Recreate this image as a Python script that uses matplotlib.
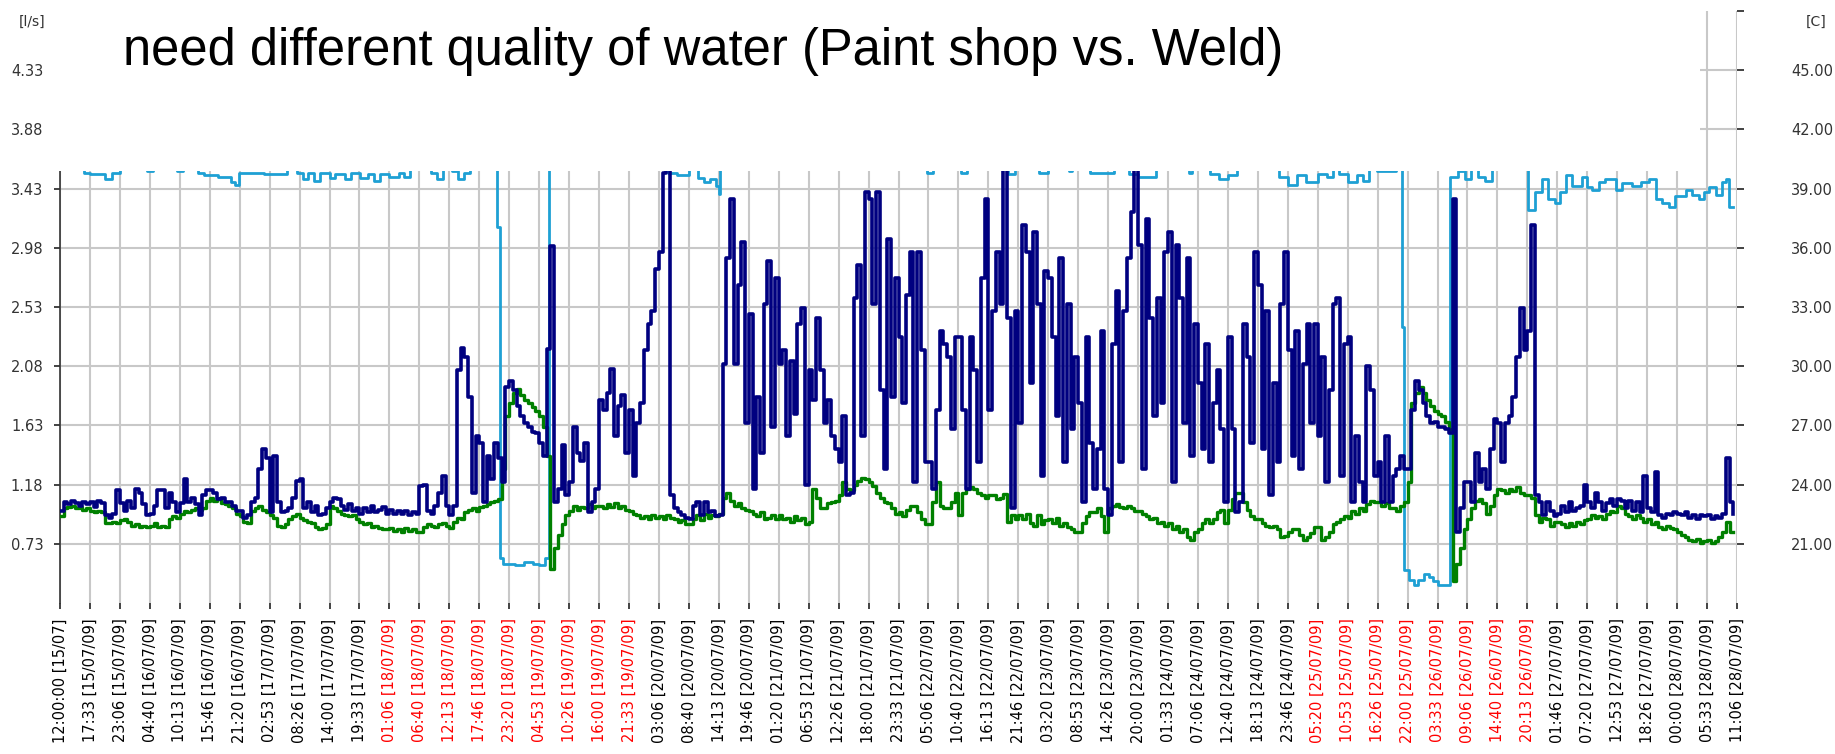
import matplotlib.pyplot as plt
import numpy as np
from matplotlib.patches import Rectangle

W, H = 1835, 754
TICK_H = 20000 / 3600.0   # one x tick every 5 h 33 min 20 s

tick_labels = [
    "12:00:00 [15/07]", "17:33 [15/07/09]", "23:06 [15/07/09]", "04:40 [16/07/09]",
    "10:13 [16/07/09]", "15:46 [16/07/09]", "21:20 [16/07/09]", "02:53 [17/07/09]",
    "08:26 [17/07/09]", "14:00 [17/07/09]", "19:33 [17/07/09]", "01:06 [18/07/09]",
    "06:40 [18/07/09]", "12:13 [18/07/09]", "17:46 [18/07/09]", "23:20 [18/07/09]",
    "04:53 [19/07/09]", "10:26 [19/07/09]", "16:00 [19/07/09]", "21:33 [19/07/09]",
    "03:06 [20/07/09]", "08:40 [20/07/09]", "14:13 [20/07/09]", "19:46 [20/07/09]",
    "01:20 [21/07/09]", "06:53 [21/07/09]", "12:26 [21/07/09]", "18:00 [21/07/09]",
    "23:33 [21/07/09]", "05:06 [22/07/09]", "10:40 [22/07/09]", "16:13 [22/07/09]",
    "21:46 [22/07/09]", "03:20 [23/07/09]", "08:53 [23/07/09]", "14:26 [23/07/09]",
    "20:00 [23/07/09]", "01:33 [24/07/09]", "07:06 [24/07/09]", "12:40 [24/07/09]",
    "18:13 [24/07/09]", "23:46 [24/07/09]", "05:20 [25/07/09]", "10:53 [25/07/09]",
    "16:26 [25/07/09]", "22:00 [25/07/09]", "03:33 [26/07/09]", "09:06 [26/07/09]",
    "14:40 [26/07/09]", "20:13 [26/07/09]", "01:46 [27/07/09]", "07:20 [27/07/09]",
    "12:53 [27/07/09]", "18:26 [27/07/09]", "00:00 [28/07/09]", "05:33 [28/07/09]",
    "11:06 [28/07/09]",
]
weekend_days = ["[18/", "[19/", "[25/", "[26/"]

left_ticks = [0.73, 1.18, 1.63, 2.08, 2.53, 2.98, 3.43, 3.88, 4.33]
right_ticks = [21, 24, 27, 30, 33, 36, 39, 42, 45, 48]

# flow [l/s], 8 samples per tick interval (one row per interval)
navy = [
    0.98, 1.05, 1.03, 1.06, 1.04, 1.02, 1.05, 1.03,
    1.05, 1.01, 1.06, 1.04, 0.95, 0.93, 0.96, 1.14,
    1.04, 0.98, 1.06, 1.00, 1.15, 1.12, 1.03, 0.95,
    0.96, 1.02, 1.14, 1.14, 1.00, 1.12, 1.05, 0.97,
    1.04, 1.22, 1.05, 1.08, 1.03, 0.95, 1.10, 1.14,
    1.14, 1.12, 1.07, 1.08, 1.05, 1.05, 1.02, 0.98,
    0.98, 0.93, 0.95, 1.05, 1.08, 1.30, 1.45, 1.38,
    0.97, 1.40, 1.05, 0.97, 0.98, 1.00, 1.08, 1.21,
    1.22, 1.00, 1.05, 0.97, 1.02, 0.95, 0.96, 1.00,
    1.05, 1.08, 1.07, 1.02, 0.99, 1.03, 0.98, 1.00,
    0.96, 1.00, 0.97, 1.02, 0.97, 0.99, 1.01, 0.96,
    0.99, 0.96, 0.98, 0.96, 0.98, 0.95, 0.97, 0.96,
    1.17, 1.18, 0.98, 0.96, 1.02, 1.12, 1.25, 1.02,
    0.95, 1.02, 2.05, 2.22, 2.15, 1.85, 1.12, 1.55,
    1.50, 1.05, 1.40, 1.22, 1.50, 1.38, 1.20, 1.92,
    1.97, 1.90, 1.78, 1.70, 1.65, 1.62, 1.58, 1.57,
    1.50, 1.40, 2.21, 2.99, 1.05, 1.15, 1.48, 1.10,
    1.20, 1.62, 1.42, 1.36, 1.50, 0.97, 1.05, 1.15,
    1.82, 1.75, 1.88, 2.06, 1.55, 1.78, 1.86, 1.42,
    1.75, 1.25, 1.65, 1.80, 2.20, 2.40, 2.50, 2.82,
    2.95, 3.55, 3.65, 1.10, 1.00, 0.97, 0.95, 0.93,
    0.92, 1.02, 1.05, 0.95, 1.05, 0.97, 0.98, 0.94,
    0.95, 2.10, 2.90, 3.35, 2.10, 2.70, 3.02, 1.65,
    2.48, 1.15, 1.85, 1.42, 2.55, 2.88, 1.62, 2.75,
    2.10, 2.20, 1.55, 2.12, 1.72, 2.40, 2.52, 1.18,
    2.05, 1.82, 2.45, 2.05, 1.65, 1.82, 1.55, 1.45,
    1.35, 1.70, 1.10, 1.12, 2.60, 2.85, 1.55, 3.40,
    3.35, 2.55, 3.40, 1.90, 1.30, 3.05, 1.85, 2.75,
    2.30, 1.80, 2.62, 2.95, 1.20, 2.95, 2.20, 1.35,
    1.35, 1.15, 1.75, 2.35, 2.25, 2.15, 1.60, 2.30,
    2.30, 1.75, 1.15, 2.30, 2.05, 1.35, 2.75, 3.35,
    1.75, 2.50, 2.95, 2.55, 3.60, 2.45, 1.00, 2.50,
    1.65, 3.15, 2.95, 1.95, 3.10, 2.55, 1.25, 2.80,
    2.75, 2.30, 1.70, 2.90, 1.35, 2.55, 1.60, 2.15,
    1.80, 1.05, 2.30, 1.50, 1.15, 1.45, 2.35, 1.15,
    0.95, 2.25, 2.65, 1.35, 2.50, 2.90, 3.25, 3.60,
    3.00, 1.30, 3.20, 2.45, 1.70, 2.60, 1.80, 2.95,
    3.10, 1.20, 3.00, 2.60, 1.65, 2.90, 1.40, 2.40,
    1.95, 1.45, 2.25, 1.35, 1.80, 2.05, 1.60, 1.05,
    2.30, 1.60, 0.97, 1.05, 2.40, 2.15, 1.50, 2.95,
    2.70, 1.45, 2.50, 1.10, 1.95, 1.35, 2.55, 2.95,
    2.20, 1.40, 2.35, 1.30, 2.10, 2.40, 1.65, 2.40,
    1.55, 2.15, 1.20, 1.90, 2.55, 2.60, 1.25, 2.25,
    2.30, 1.05, 1.55, 1.20, 1.05, 2.08, 1.90, 1.25,
    1.35, 1.05, 1.55, 1.05, 1.25, 1.30, 1.40, 1.30,
    1.30, 1.75, 1.97, 1.90, 1.80, 1.70, 1.65, 1.66,
    1.62, 1.62, 1.60, 1.57, 3.35, 0.82, 1.00, 1.20,
    1.20, 1.05, 1.42, 1.20, 1.30, 1.15, 1.45, 1.68,
    1.65, 1.35, 1.65, 1.70, 1.85, 2.15, 2.52, 2.20,
    2.35, 3.15, 1.10, 1.05, 0.95, 1.05, 0.98, 0.94,
    0.96, 1.02, 0.97, 1.05, 0.98, 1.00, 1.02, 1.18,
    1.05, 1.00, 1.12, 1.05, 0.98, 1.04, 1.07, 1.02,
    1.07, 1.06, 1.00, 1.06, 0.98, 1.05, 0.97, 1.25,
    1.00, 0.97, 1.28, 0.95, 0.93, 0.96, 0.95, 0.97,
    0.96, 0.95, 0.97, 0.93, 0.95, 0.92, 0.95, 0.94,
    0.95, 0.92, 0.94, 0.93, 0.96, 1.38, 1.05, 0.96,
]

green = [
    0.94, 1.00, 1.01, 1.02, 1.00, 1.01, 0.99, 1.00,
    0.98, 0.97, 0.98, 0.97, 0.89, 0.89, 0.90, 0.89,
    0.91, 0.92, 0.90, 0.87, 0.88, 0.86, 0.87, 0.86,
    0.87, 0.89, 0.86, 0.87, 0.86, 0.92, 0.94, 0.93,
    0.96, 0.98, 0.97, 0.99, 1.00, 0.99, 1.00, 1.06,
    1.08, 1.06, 1.07, 1.04, 1.03, 1.02, 1.00, 0.96,
    0.94, 0.90, 0.89, 0.98, 1.00, 1.02, 0.99, 0.97,
    0.95, 0.93, 0.87, 0.86, 0.88, 0.92, 0.94, 0.96,
    0.93, 0.91, 0.90, 0.89, 0.86, 0.84, 0.85, 0.88,
    1.02, 1.00, 0.98, 0.96, 0.95, 0.94, 0.95, 0.92,
    0.90, 0.88, 0.89, 0.86, 0.87, 0.85, 0.84, 0.84,
    0.85, 0.83, 0.84, 0.82, 0.85, 0.83, 0.84, 0.82,
    0.82, 0.86, 0.88, 0.87, 0.86, 0.88, 0.89, 0.87,
    0.85, 0.90, 0.93, 0.92, 0.97, 0.99, 1.00, 0.98,
    1.01, 1.02, 1.03, 1.05, 1.06, 1.07, 1.30, 1.70,
    1.80, 1.88, 1.91, 1.86, 1.82, 1.80, 1.77, 1.74,
    1.70, 1.62, 1.40, 0.54, 0.70, 0.80, 0.88, 0.95,
    0.98, 1.02, 0.99, 1.01, 1.00, 1.03, 1.00, 1.02,
    1.02, 1.00, 1.03, 1.01, 1.04, 1.00, 1.02, 0.99,
    0.98, 0.96, 0.95, 0.93, 0.94, 0.92, 0.95, 0.93,
    0.94, 0.92, 0.95, 0.93, 0.92, 0.90, 0.91, 0.88,
    0.88, 0.92, 0.95, 0.91, 0.96, 0.93, 0.95, 0.94,
    0.96, 1.08, 1.12, 1.06, 1.02, 1.04, 1.00, 0.99,
    0.98, 0.96, 0.94, 0.97, 0.92, 0.93, 0.95, 0.92,
    0.95, 0.92, 0.93, 0.90, 0.94, 0.91, 0.93, 0.88,
    0.90, 1.15, 1.08, 1.00, 1.00, 1.04, 1.05, 1.06,
    1.10, 1.20, 1.15, 1.14, 1.18, 1.21, 1.23, 1.22,
    1.20, 1.17, 1.12, 1.08, 1.05, 1.04, 1.00, 0.96,
    0.97, 0.94, 0.99, 1.02, 1.02, 0.97, 0.92, 0.88,
    0.88, 1.05, 1.20, 1.02, 1.00, 1.00, 1.05, 1.12,
    0.95, 1.12, 1.15, 1.16, 1.15, 1.12, 1.10, 1.08,
    1.10, 1.10, 1.07, 1.08, 1.11, 0.90, 0.95, 0.92,
    0.95, 0.92, 0.96, 0.89, 0.87, 0.95, 0.88, 0.91,
    0.92, 0.89, 0.93, 0.87, 0.89, 0.86, 0.84, 0.82,
    0.82, 0.89, 0.94, 0.97, 0.97, 1.00, 0.94, 0.82,
    1.00, 1.02, 1.03, 1.01, 1.00, 1.02, 1.00, 0.98,
    0.98, 0.96, 0.94, 0.92, 0.93, 0.89, 0.90, 0.87,
    0.89, 0.84, 0.87, 0.82, 0.84, 0.78, 0.76, 0.82,
    0.84, 0.89, 0.92, 0.89, 0.92, 0.97, 0.99, 0.89,
    0.99, 1.07, 1.12, 1.12, 1.05, 0.99, 0.94, 0.92,
    0.92, 0.89, 0.87, 0.86, 0.87, 0.84, 0.78, 0.79,
    0.82, 0.84, 0.84, 0.80, 0.76, 0.78, 0.81, 0.86,
    0.86, 0.76, 0.78, 0.82, 0.88, 0.90, 0.92, 0.94,
    0.93, 0.98, 0.96, 1.00, 0.98, 1.03, 1.06, 1.05,
    1.05, 1.02, 1.04, 1.00, 1.00, 0.98, 1.02, 1.05,
    1.20, 1.80, 1.88, 1.92, 1.88, 1.82, 1.78, 1.74,
    1.72, 1.70, 1.66, 1.60, 0.45, 0.58, 0.70, 0.84,
    0.92, 1.00, 1.06, 1.07, 1.04, 0.96, 1.02, 1.10,
    1.15, 1.14, 1.12, 1.15, 1.13, 1.16, 1.12, 1.10,
    1.10, 1.08, 0.95, 0.90, 0.93, 0.92, 0.87, 0.90,
    0.90, 0.88, 0.86, 0.89, 0.87, 0.90, 0.88, 0.91,
    0.92, 0.95, 0.93, 0.94, 0.92, 0.96, 0.98, 0.97,
    1.02, 1.00, 0.96, 0.94, 0.92, 0.95, 0.93, 0.90,
    0.92, 0.88, 0.90, 0.86, 0.84, 0.87, 0.85, 0.84,
    0.82, 0.80, 0.78, 0.76, 0.75, 0.77, 0.74, 0.75,
    0.76, 0.74, 0.75, 0.78, 0.82, 0.90, 0.82, 0.82,
]

# third trace: change points (hours since 15/07 12:00) and levels, in l/s units
cyan_hours = [
    0.0, 4.4, 5.6, 8.3, 9.7, 11.1, 16.1, 17.2, 21.7, 22.8, 25.6, 26.7, 29.4, 31.7,
    32.5, 33.3, 37.8, 42.2, 43.9, 45.0, 46.1, 47.2, 48.3, 50.0, 51.1, 52.8, 53.9,
    55.6, 57.2, 58.3, 59.4, 61.1, 62.8, 63.9, 65.0, 68.9, 70.0, 71.1, 72.8, 73.9,
    75.0, 76.1, 81.1, 81.6, 82.2, 84.4, 86.1, 87.8, 88.9, 90.0, 90.7, 112.8, 114.4,
    116.7, 118.3, 119.4, 120.6, 121.7, 122.2, 122.5, 160.8, 161.9, 167.2, 168.3,
    175.8, 177.2, 181.7, 183.3, 187.2, 187.8, 191.1, 195.6, 198.3, 200.0, 203.3,
    209.4, 210.0, 213.3, 215.0, 216.7, 218.3, 226.1, 227.8, 229.4, 231.1, 233.3,
    235.0, 236.1, 237.2, 238.9, 240.6, 241.7, 242.8, 244.4, 247.8, 248.9, 249.4,
    250.3, 251.1, 251.9, 253.1, 253.9, 254.7, 255.6, 257.9, 259.4, 260.6, 261.7,
    263.1, 264.4, 265.6, 272.4, 273.7, 275.0, 276.1, 277.4, 278.3, 279.3, 280.5,
    282.4, 283.3, 284.2, 285.6, 286.7, 288.6, 289.8, 291.7, 293.3, 294.8, 296.0,
    297.2, 298.5, 299.7, 301.6, 302.8, 304.1, 305.0, 305.9, 307.2, 308.4, 309.1,
    309.7, 310.3,
]
cyan = [
    3.62, 3.55, 3.54, 3.50, 3.55, 3.63, 3.56, 3.63, 3.56, 3.63, 3.55, 3.53, 3.52, 3.48,
    3.46, 3.55, 3.54, 3.62, 3.55, 3.50, 3.55, 3.49, 3.55, 3.51, 3.54, 3.50, 3.55,
    3.51, 3.54, 3.49, 3.54, 3.52, 3.55, 3.52, 3.62, 3.55, 3.50, 3.62, 3.56, 3.50,
    3.55, 3.63, 3.14, 0.62, 0.58, 0.57, 0.59, 0.58, 0.57, 0.62, 3.70, 3.55, 3.53,
    3.60, 3.51, 3.48, 3.50, 3.45, 3.39, 3.70, 3.55, 3.70, 3.55, 3.70,
    3.54, 3.70, 3.55, 3.70, 3.56, 3.70, 3.55, 3.70, 3.54, 3.52, 3.70,
    3.55, 3.70, 3.54, 3.50, 3.53, 3.70, 3.52, 3.46, 3.53, 3.48, 3.54,
    3.52, 3.70, 3.54, 3.48, 3.53, 3.49, 3.70, 3.56, 3.70, 2.38, 0.53,
    0.46, 0.42, 0.46, 0.50, 0.48, 0.45, 0.42, 3.52, 3.56, 3.50, 3.70,
    3.52, 3.49, 3.70, 3.27, 3.40, 3.50, 3.35, 3.32, 3.40, 3.53, 3.45,
    3.52, 3.44, 3.42, 3.48, 3.50, 3.42, 3.47, 3.45, 3.48, 3.50, 3.35,
    3.32, 3.29, 3.37, 3.42, 3.38, 3.35, 3.40, 3.44, 3.38, 3.48, 3.50,
    3.29, 3.29,
]

sample_h = np.arange(len(navy)) * TICK_H / 8
tick_pos = np.arange(len(tick_labels)) * TICK_H

fig = plt.figure(figsize=(W / 100, H / 100), dpi=100)
ax = fig.add_axes([60 / W, 0.2, (1737 - 60) / W, 0.7857])

ax.plot(cyan_hours, cyan, drawstyle="steps-post", color="#1ea0d4", lw=2.0, zorder=2)
ax.plot(sample_h, green, drawstyle="steps-post", color="#008000", lw=2.4, zorder=3)
ax.plot(sample_h, navy, drawstyle="steps-post", color="#000080", lw=2.6, zorder=4)

ax.set_xlim(0, tick_pos[-1])
ax.set_ylim(0.28, 4.78)
ax.set_xticks(tick_pos)
ax.set_xticklabels(tick_labels, rotation=90, fontsize=10.5)
for lab in ax.get_xticklabels():
    if any(d in lab.get_text() for d in weekend_days):
        lab.set_color("#ff0000")
ax.set_yticks(left_ticks)
ax.set_yticklabels(["%.2f" % v for v in left_ticks], fontsize=10.5, color="#333333")
ax.set_axisbelow(True)
ax.grid(True, color="#c8c8c8", lw=1.5)
for s in ["top", "right", "bottom"]:
    ax.spines[s].set_visible(False)
ax.spines["left"].set_color("#333333")
ax.spines["left"].set_linewidth(1.2)
ax.tick_params(axis="x", length=4, width=1.2, color="#222222", pad=7)
ax.tick_params(axis="y", length=4, width=1.2, color="#222222", pad=8)

ax2 = ax.twinx()
ax2.set_ylim(18, 48)
ax2.set_yticks(right_ticks)
ax2.set_yticklabels(["%.2f" % v if v < 48 else "" for v in right_ticks],
                    fontsize=10.5, color="#333333")
for s in ax2.spines.values():
    s.set_visible(False)
ax2.tick_params(axis="y", length=5, width=1.2, color="#222222", pad=34)

fig.text(32 / W, 1 - 22 / H, "[l/s]", fontsize=10, ha="center", va="center", color="#333333")
fig.text(1816 / W, 1 - 22 / H, "[C]", fontsize=10, ha="center", va="center", color="#333333")

# white box pasted over the top of the plot, with the slide title on it
fig.add_artist(Rectangle((50 / W, 1 - 171 / H), (1700 - 50) / W, 171 / H,
                         transform=fig.transFigure, facecolor="white",
                         edgecolor="none", zorder=5))
fig.text(123 / W, 1 - 65 / H, "need different quality of water (Paint shop vs. Weld)",
         fontsize=36.5, family="Liberation Sans", va="baseline", zorder=6)

fig.savefig("out.png", dpi=100)
